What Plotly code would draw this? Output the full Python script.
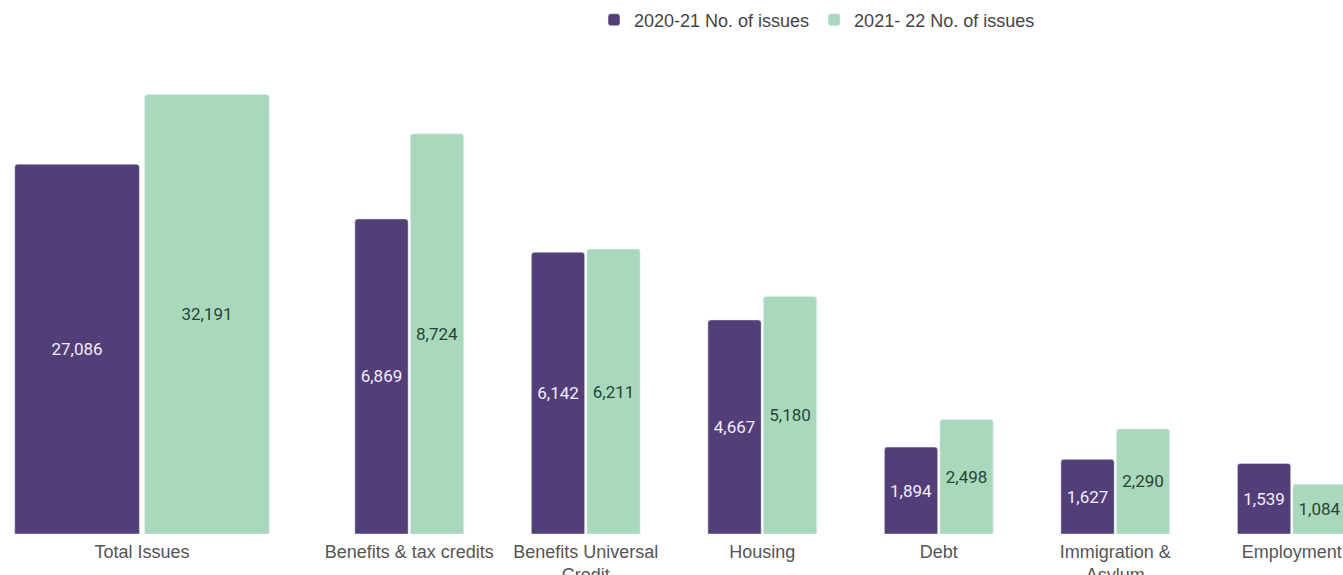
import plotly.graph_objects as go

# Data
total_cat = ["Total Issues"]
total_2021 = [27086]
total_2122 = [32191]

categories = ["Benefits & tax credits", "Benefits Universal<br>Credit", "Housing",
              "Debt", "Immigration &<br>Asylum", "Employment"]
vals_2021 = [6869, 6142, 4667, 1894, 1627, 1539]
vals_2122 = [8724, 6211, 5180, 2498, 2290, 1084]

series_names = ["2020-21 No. of issues", "2021- 22 No. of issues"]

PURPLE = "#523F79"
GREEN = "#A8D9BD"
W, H = 1343, 575

def fmt(v):
    return [f"{x:,}" for x in v]

fig = go.Figure()
common = dict(textposition="inside", insidetextanchor="middle", marker_cornerradius=3)
lab_p = dict(color="#F2EEF7", size=17, family="Roboto")
lab_g = dict(color="#2A4434", size=17, family="Roboto")
fig.add_trace(go.Bar(x=total_cat, y=total_2021, name=series_names[0], marker_color=PURPLE,
                     text=fmt(total_2021), textfont=lab_p,
                     xaxis="x", yaxis="y", legendgroup="a", **common))
fig.add_trace(go.Bar(x=total_cat, y=total_2122, name=series_names[1], marker_color=GREEN,
                     text=fmt(total_2122), textfont=lab_g,
                     xaxis="x", yaxis="y", legendgroup="b", **common))
fig.add_trace(go.Bar(x=categories, y=vals_2021, name=series_names[0], marker_color=PURPLE,
                     text=fmt(vals_2021), textfont=lab_p,
                     xaxis="x2", yaxis="y2", legendgroup="a", showlegend=False, **common))
fig.add_trace(go.Bar(x=categories, y=vals_2122, name=series_names[1], marker_color=GREEN,
                     text=fmt(vals_2122), textfont=lab_g,
                     xaxis="x2", yaxis="y2", legendgroup="b", showlegend=False, **common))

mt, mb = 60, 41
ph = H - mt - mb
tickfont = dict(family="Liberation Sans, Arial", size=18, color="#555555")
ppu_left = 413.0  # pixels per category unit (left panel)
c_left = 142

fig.update_layout(
    width=W, height=H,
    margin=dict(l=0, r=0, t=mt, b=mb, autoexpand=False),
    paper_bgcolor="white", plot_bgcolor="white",
    barmode="group", bargap=0.371, bargroupgap=0.04,
    showlegend=True,
    legend=dict(orientation="h", x=817 / W, xanchor="center", y=1 + (60 - 20) / ph,
                yanchor="middle",
                font=dict(family="Liberation Sans, Arial", size=18, color="#444444"),
                traceorder="normal"),
    xaxis=dict(domain=[0, 284 / W], range=[-c_left / ppu_left, (284 - c_left) / ppu_left],
               showgrid=False, zeroline=False, showline=False, ticks="", tickfont=tickfont,
               ticklabelstandoff=5, automargin=False, anchor="y"),
    yaxis=dict(domain=[0, 1], range=[0, ph * 73.25], visible=False, anchor="x"),
    xaxis2=dict(domain=[321 / W, 1], range=[-0.5, 5.29], showgrid=False, zeroline=False,
                showline=False, ticks="", tickfont=tickfont, ticklabelstandoff=5,
                automargin=False, anchor="y2"),
    yaxis2=dict(domain=[0, 1], range=[0, ph * 21.8], visible=False, anchor="x2"),
    uniformtext=dict(minsize=16, mode="show"),
)

fig.write_html("out.html", config={"displayModeBar": False},
               post_script="document.body.style.margin='0';document.body.style.overflow='hidden';")
